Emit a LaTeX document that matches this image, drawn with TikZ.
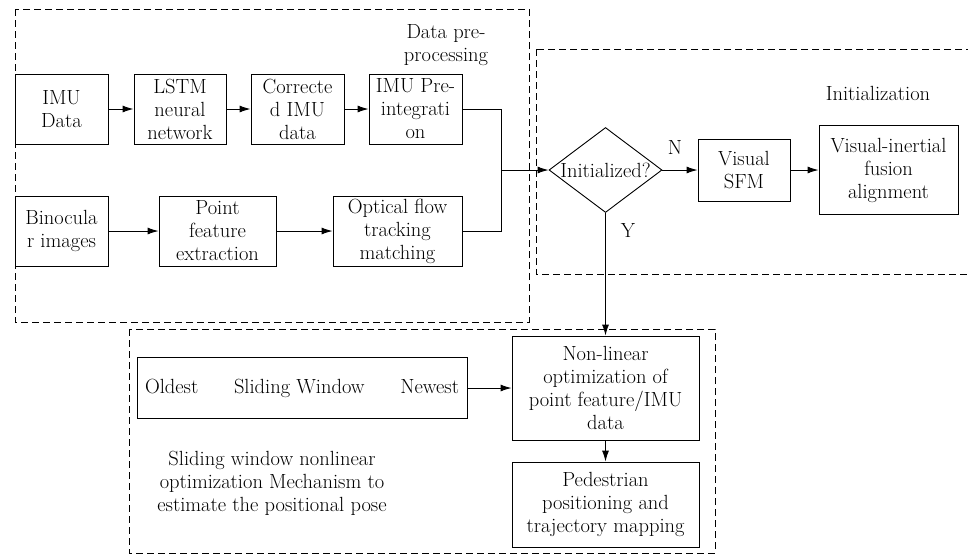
\documentclass[tikz,border=0pt]{standalone}
\usepackage{amsmath,amsfonts}
\usepackage{xcolor}
\usepackage{tikz}
\usetikzlibrary{shapes.geometric,arrows.meta}

\begin{document}
\begin{tikzpicture}[x=1pt,y=-1pt,>={Latex[length=11pt,width=7pt]},
    font=\fontsize{20.5}{23}\selectfont,
    blk/.style={draw,line width=0.9pt,align=center,inner sep=1pt,minimum height=70pt},
    grp/.style={draw,line width=0.9pt,dash pattern=on 7pt off 4pt},
    dec/.style={draw,diamond,line width=0.9pt,inner sep=0pt,minimum width=113pt,minimum height=85pt},
    flow/.style={->,line width=0.9pt}]
    \useasboundingbox (0,0) rectangle (968,554);
    % groups
    \draw[grp] (15,9) rectangle (529,322);
    \draw[grp] (536,49) rectangle (975,274);
    \draw[grp] (129,329) rectangle (715,553);
    \node[align=center] (prelbl) at (446,45) {Data pre-\\processing};
    \node (initlbl) at (878,93) {Initialization};
    \node[align=center] (optlbl) at (272,483) {Sliding window nonlinear\\optimization Mechanism to\\estimate the positional pose};
    % data pre-processing
    \node[blk,minimum width=93pt] (imu) at (61.5,109) {IMU\\Data};
    \node[blk,minimum width=92pt] (lstm) at (180,109) {LSTM\\neural\\network};
    \node[blk,minimum width=93pt] (corr) at (297.5,109) {Correcte\\d IMU\\data};
    \node[blk,minimum width=93pt] (preint) at (415.5,109) {IMU Pre-\\integrati\\on};
    \node[blk,minimum width=93pt] (bino) at (61.5,231) {Binocula\\r images};
    \node[blk,minimum width=117pt] (feat) at (217.5,231) {Point\\feature\\extraction};
    \node[blk,minimum width=129pt] (flowtrk) at (397.5,231) {Optical flow\\tracking\\matching};
    \coordinate (merge) at (501,170);
    % initialization
    \node[dec] (init) at (605.5,170) {\makebox[0pt]{Initialized?}};
    \node[blk,minimum width=92pt,minimum height=62pt] (sfm) at (744,170) {Visual\\SFM};
    \node[blk,minimum width=139pt,minimum height=89pt] (align) at (888.5,170) {Visual-inertial\\fusion\\alignment};
    \node (nlbl) at (675,147) {N};
    \node (ylbl) at (628,230) {Y};
    % sliding window
    \node[blk,minimum width=330pt,minimum height=61pt,inner sep=0pt] (win) at (302,388) {\makebox[314pt]{Oldest\hfill Sliding Window\hfill Newest}};
    \node[blk,minimum width=187pt,minimum height=104pt] (opt) at (605.5,388) {Non-linear\\optimization of\\point feature/IMU\\data};
    \node[blk,minimum width=187pt,minimum height=85pt] (ped) at (605.5,504.5) {Pedestrian\\positioning and\\trajectory mapping};

    \draw[flow] (imu) to (lstm);
    \draw[flow] (lstm) to (corr);
    \draw[flow] (corr) to (preint);
    \draw[flow] (bino) to (feat);
    \draw[flow] (feat) to (flowtrk);
    \draw[line width=0.9pt] (preint.east) -| (merge);
    \draw[line width=0.9pt] (flowtrk.east) -| (merge);
    \draw[flow] (merge) to (init.west);
    \draw[flow] (init.east) to (sfm.west);
    \draw[flow] (sfm) to (align);
    \draw[flow] (init.south) to (opt.north);
    \draw[flow] (win) to (opt);
    \draw[flow] (opt) to (ped);
\end{tikzpicture}
\end{document}
